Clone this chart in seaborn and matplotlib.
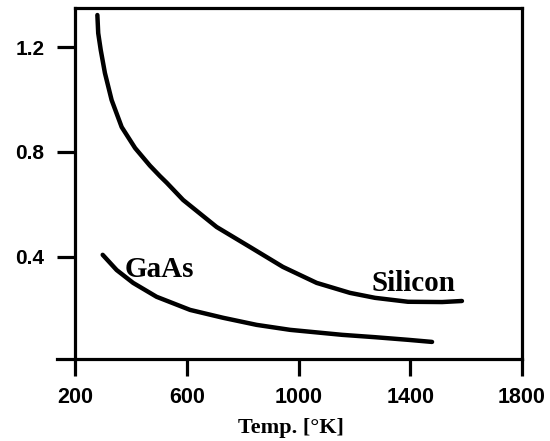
import matplotlib
matplotlib.use("Agg")
import matplotlib.pyplot as plt
import seaborn as sns
import pandas as pd

# Data
si_temp = [280, 283, 292, 307, 331, 367, 415, 468, 504, 528, 587, 707, 826, 944, 1065, 1184, 1274, 1392, 1514, 1585]
si_val = [1.322, 1.253, 1.189, 1.101, 0.998, 0.895, 0.815, 0.748, 0.708, 0.683, 0.617, 0.514, 0.438, 0.362, 0.301, 0.263, 0.244, 0.229, 0.228, 0.232]
gaas_temp = [299, 349, 408, 492, 612, 730, 850, 970, 1156, 1274, 1392, 1478]
gaas_val = [0.408, 0.350, 0.301, 0.248, 0.198, 0.168, 0.141, 0.122, 0.103, 0.094, 0.084, 0.076]
x_ticks = [200, 600, 1000, 1400, 1800]
y_ticks = [0.4, 0.8, 1.2]
y_tick_labels = ["0.4", "0.8", "1.2"]

sns.set_style("ticks")
plt.rcParams["font.family"] = ["Liberation Sans", "DejaVu Sans"]
for k in ["text.color", "axes.labelcolor", "xtick.color", "ytick.color", "axes.edgecolor"]:
    plt.rcParams[k] = "black"

fig = plt.figure(figsize=(5.5, 4.41), dpi=100)
ax = fig.add_axes([0.1364, 0.186, 0.8127, 0.796])

df_si = pd.DataFrame({"T": si_temp, "v": si_val})
df_ga = pd.DataFrame({"T": gaas_temp, "v": gaas_val})
sns.lineplot(data=df_si, x="T", y="v", ax=ax, color="black", linewidth=3.2, sort=False,
             solid_capstyle="round", solid_joinstyle="round")
sns.lineplot(data=df_ga, x="T", y="v", ax=ax, color="black", linewidth=3.2, sort=False,
             solid_capstyle="round", solid_joinstyle="round")

ax.set_xlim(200, 1800)
ax.set_ylim(0.011, 1.349)
ax.set_xticks(x_ticks)
ax.set_xticklabels([str(t) for t in x_ticks])
ax.set_yticks(y_ticks)
ax.set_yticklabels(y_tick_labels)

for s in ax.spines.values():
    s.set_linewidth(2.3)
    s.set_color("black")
ax.spines["bottom"].set_bounds(136, 1800)

ax.tick_params(axis="x", length=12.5, width=2.3, direction="out", pad=8, labelsize=15.5,
               colors="black")
ax.tick_params(axis="y", length=13, width=2.3, direction="out", pad=9, labelsize=15,
               colors="black")
for lab in ax.get_xticklabels() + ax.get_yticklabels():
    lab.set_fontweight("bold")

ax.set_xlabel("Temp. [°K]", fontsize=16, fontweight="bold", color="black",
              family=["Liberation Serif", "DejaVu Serif"])
ax.xaxis.set_label_coords(0.483, -0.168)
ax.set_ylabel("")

ax.text(379, 0.325, "GaAs", fontsize=21, fontweight="bold", color="black",
        family=["Liberation Serif", "DejaVu Serif"], ha="left", va="baseline")
ax.text(1263, 0.27, "Silicon", fontsize=21, fontweight="bold", color="black",
        family=["Liberation Serif", "DejaVu Serif"], ha="left", va="baseline")

fig.savefig("out.png", dpi=100, facecolor="white")
